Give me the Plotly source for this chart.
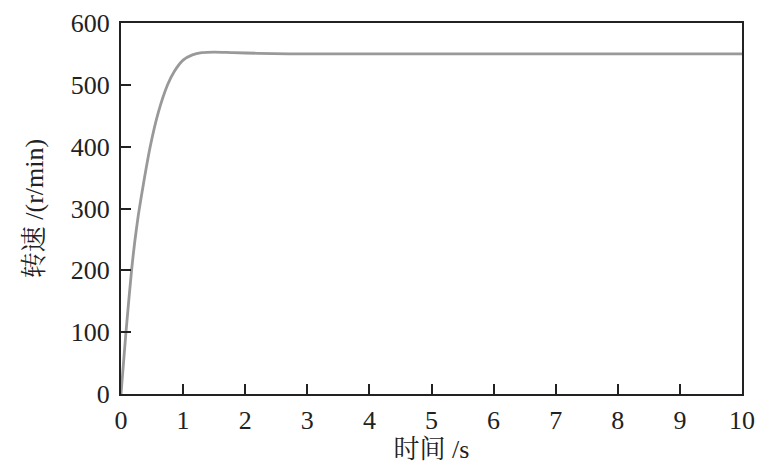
import plotly.graph_objects as go

t = [0, 0.08, 0.17, 0.22, 0.28, 0.37, 0.47, 0.6, 0.75, 0.86, 1.0, 1.15, 1.3, 1.5, 1.8, 2.2, 2.7, 3.5, 5, 7.5, 10]
speed = [0, 100, 200, 245, 290, 345, 400, 455, 500, 522, 540, 548.5, 552, 553, 552, 551, 550, 550, 550, 550, 550]

x_ticks = list(range(0, 11))
y_ticks = [0, 100, 200, 300, 400, 500, 600]

font_family = "Liberation Serif, Noto Serif CJK SC, Noto Sans CJK SC, serif"

fig = go.Figure()
fig.add_trace(go.Scatter(x=t, y=speed, mode="lines",
                         line=dict(color="#999999", width=2.8, shape="spline", smoothing=0.6),
                         showlegend=False))

axis_common = dict(showgrid=False, zeroline=False, showline=True, linecolor="#222",
                   linewidth=2, mirror=True, ticks="inside", ticklen=10, tickwidth=2,
                   automargin=False,
                   tickcolor="#222", tickfont=dict(family=font_family, size=26, color="#222"))

fig.update_layout(
    width=776, height=468,
    margin=dict(l=113, r=42, t=15, b=82),
    paper_bgcolor="white", plot_bgcolor="white",
    xaxis=dict(range=[0, 10], tickvals=x_ticks, **axis_common, ticklabelstandoff=2,
               title=dict(text="时间 /s", font=dict(family=font_family, size=26, color="#222"), standoff=2)),
    yaxis=dict(range=[0, 600], tickvals=y_ticks, **axis_common, ticklabelstandoff=4,
               title=dict(text="转速 /(r/min)", font=dict(family=font_family, size=26, color="#222"), standoff=20)),
)
fig.write_html("out.html")
